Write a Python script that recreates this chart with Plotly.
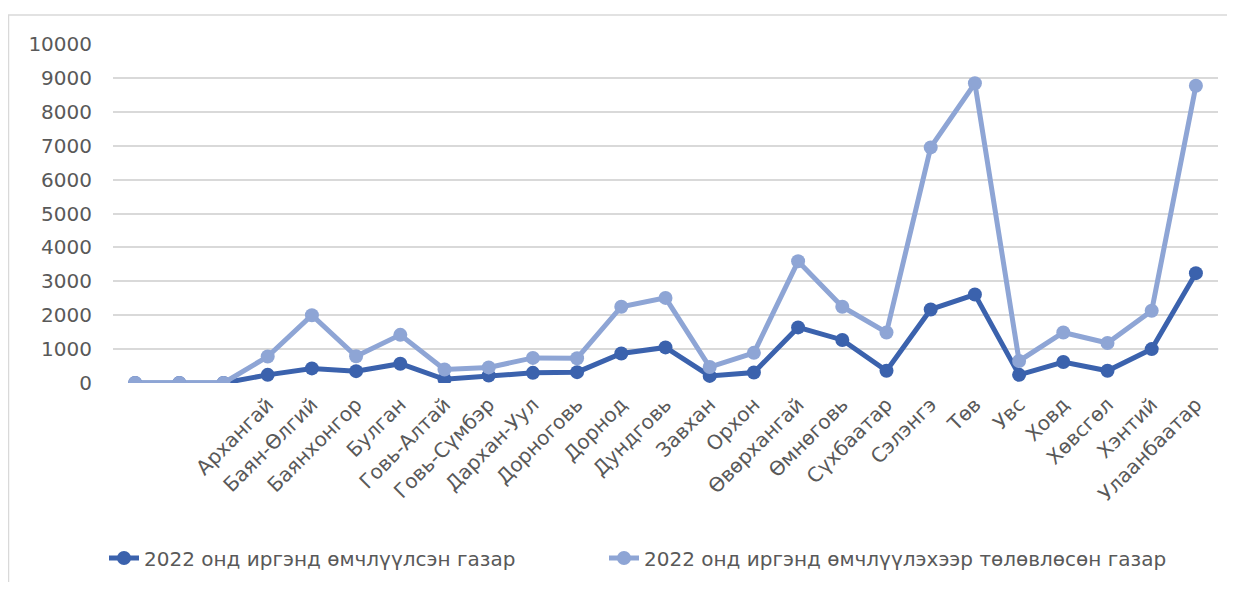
import plotly.graph_objects as go

categories = ["", "", "", "Архангай", "Баян-Өлгий", "Баянхонгор", "Булган", "Говь-Алтай",
              "Говь-Сүмбэр", "Дархан-Уул", "Дорноговь", "Дорнод", "Дундговь", "Завхан",
              "Орхон", "Өвөрхангай", "Өмнөговь", "Сүхбаатар", "Сэлэнгэ", "Төв", "Увс",
              "Ховд", "Хөвсгөл", "Хэнтий", "Улаанбаатар"]

allocated = [0, 0, 0, 240, 430, 350, 570, 110, 220, 300, 320, 870, 1050, 210, 310,
             1640, 1270, 360, 2170, 2610, 240, 620, 360, 1000, 3240]
planned = [0, 0, 0, 780, 2000, 790, 1420, 400, 460, 740, 730, 2250, 2510, 470, 890,
           3590, 2250, 1490, 6950, 8840, 650, 1490, 1180, 2130, 8770]

series_names = ["2022 онд иргэнд өмчлүүлсэн газар",
                "2022 онд иргэнд өмчлүүлэхээр төлөвлөсөн газар"]

y_ticks = [0, 1000, 2000, 3000, 4000, 5000, 6000, 7000, 8000, 9000, 10000]

dark = "#3B62AD"
light = "#8EA5D5"
text_col = "#595959"
FONT = "DejaVu Sans"

x_idx = list(range(len(categories)))

fig = go.Figure()
fig.add_trace(go.Scatter(x=x_idx, y=allocated, name=series_names[0], mode="lines+markers",
                         line=dict(color=dark, width=5), marker=dict(color=dark, size=14),
                         legend="legend"))
fig.add_trace(go.Scatter(x=x_idx, y=planned, name=series_names[1], mode="lines+markers",
                         line=dict(color=light, width=5), marker=dict(color=light, size=14),
                         legend="legend2"))

# page body has an 8px margin; figure is sized and offset to compensate
OFF = 8
W, H = 1219, 574
L, R, T = 113 - OFF, 9, 44 - OFF
B = H - (383 - OFF)
pw = W - L - R
ph = H - T - B

def px(xp):
    return (xp - OFF - L) / pw

def py(yp):
    return (H - B - (yp - OFF)) / ph

legend_font = dict(family=FONT, size=20, color=text_col)

fig.update_layout(
    width=W, height=H,
    margin=dict(l=L, r=R, t=T, b=B, autoexpand=False),
    paper_bgcolor="white", plot_bgcolor="white",
    font=dict(family=FONT, size=20, color=text_col),
    showlegend=True,
    legend=dict(orientation="h", x=px(104), xanchor="left", y=py(558), yanchor="middle",
                font=legend_font, bgcolor="rgba(0,0,0,0)"),
    legend2=dict(orientation="h", x=px(604), xanchor="left", y=py(558), yanchor="middle",
                 font=legend_font, bgcolor="rgba(0,0,0,0)"),
    xaxis=dict(range=[-0.5, len(categories) - 0.5], tickmode="array", tickvals=x_idx,
               ticktext=categories, tickangle=-45, showgrid=False, zeroline=False,
               showline=False, ticks="", ticklabelstandoff=5,
               tickfont=dict(family=FONT, size=20, color=text_col)),
    yaxis=dict(range=[0, 10000], tickmode="array", tickvals=y_ticks,
               ticktext=[str(v) for v in y_ticks],
               showgrid=True, gridcolor="#D9D9D9", gridwidth=1.5, zeroline=False,
               showline=False, ticks="", ticklabelstandoff=20,
               tickfont=dict(family=FONT, size=20, color=text_col)),
    shapes=[dict(type="rect", xref="paper", yref="paper",
                 x0=px(8.5), x1=px(1260), y0=py(610), y1=py(15),
                 line=dict(color="#D9D9D9", width=1.5), fillcolor="rgba(0,0,0,0)",
                 layer="below")],
)

fig.write_html("out.html")
